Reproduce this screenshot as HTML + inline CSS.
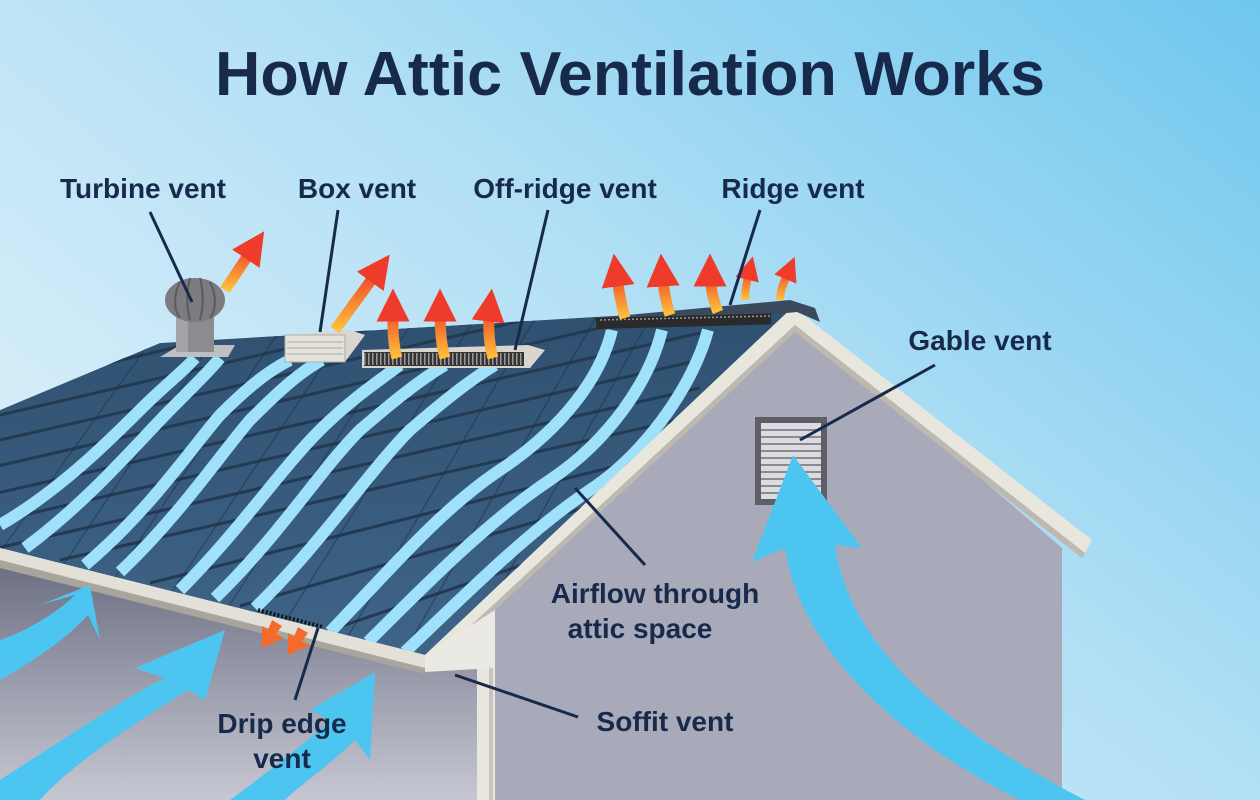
<!DOCTYPE html>
<html><head><meta charset="utf-8"><style>
html,body{margin:0;padding:0;width:1260px;height:800px;overflow:hidden}
svg{display:block}
text{font-family:"Liberation Sans",sans-serif;font-weight:bold;fill:#182a4c}
</style></head><body>
<svg width="1260" height="800" viewBox="0 0 1260 800" xmlns="http://www.w3.org/2000/svg">
<defs>
<linearGradient id="bg" x1="0" y1="0.8" x2="1" y2="0">
<stop offset="0" stop-color="#e2f2fa"/><stop offset="0.5" stop-color="#b4e0f5"/><stop offset="1" stop-color="#6fc7ee"/>
</linearGradient>
<linearGradient id="wall" x1="0" y1="0" x2="0" y2="1">
<stop offset="0" stop-color="#6a6d80"/><stop offset="0.5" stop-color="#9a9cac"/><stop offset="1" stop-color="#c6c7d2"/>
</linearGradient>
<linearGradient id="roof" x1="0" y1="0" x2="0" y2="1">
<stop offset="0" stop-color="#2f5070"/><stop offset="1" stop-color="#3f6487"/>
</linearGradient>
<linearGradient id="orng" x1="0" y1="1" x2="0" y2="0">
<stop offset="0" stop-color="#ffc23a"/><stop offset="1" stop-color="#ee3b2a"/>
</linearGradient>
<clipPath id="rc"><polygon points="0,410 160,343 795,305 425,655 0,548"/></clipPath>
<marker id="oh" viewBox="0 0 10 10" refX="5" refY="5" markerWidth="3" markerHeight="3" orient="auto"><path d="M0,0 L10,5 L0,10 z" fill="#ee3b2a"/></marker>
</defs>
<rect width="1260" height="800" fill="url(#bg)"/>
<text x="630" y="95" font-size="62" text-anchor="middle" textLength="830" lengthAdjust="spacingAndGlyphs">How Attic Ventilation Works</text>

<polygon points="0,560 425,668 500,668 500,800 0,800" fill="url(#wall)"/>
<polygon points="795,318 1062,548 1062,800 495,800 495,610" fill="#a9aab9"/>
<rect x="477" y="668" width="18" height="132" fill="#e9e6df"/>
<rect x="489" y="668" width="4" height="132" fill="#c8c4bb"/>
<polygon points="792,306 1092,540 1085,553 795,325 425,668 418,655" fill="#e9e6de"/>
<polygon points="795,325 1085,553 1082,558 795,332 428,672 425,668" fill="#bdb9b0"/>
<polygon points="425,655 495,610 495,668 425,672" fill="#ebe9e3"/>

<g clip-path="url(#rc)">
<polygon points="0,410 160,343 795,305 425,655 0,548" fill="url(#roof)"/>
<g stroke="#223a52" stroke-width="3" fill="none">
<path d="M0,440 L700,280"/><path d="M-20,470 L700,305"/><path d="M-20,497 L700,333"/>
<path d="M-20,525 L700,360"/><path d="M-20,552 L700,388"/><path d="M60,560 L700,415"/>
<path d="M150,583 L700,445"/><path d="M240,606 L700,475"/><path d="M330,630 L700,505"/>
<path d="M0,415 L700,253"/><path d="M100,365 L700,225"/>
</g>
<g stroke="#1f3349" stroke-width="1.2" opacity="0.6">
<path d="M40,600 L240,300"/><path d="M100,600 L300,300"/><path d="M160,610 L360,310"/><path d="M220,620 L420,310"/><path d="M280,630 L480,310"/><path d="M340,650 L540,310"/><path d="M400,660 L600,310"/><path d="M460,660 L660,300"/><path d="M-20,580 L180,300"/>
</g>
<g stroke="#9fe0fa" stroke-width="12" fill="none" stroke-linecap="butt">
<path d="M0,525 C60,490 110,440 140,410 C165,385 185,370 195,358"/>
<path d="M25,548 C90,500 140,440 170,410 C195,385 210,370 220,358"/>
<path d="M85,565 C150,510 190,450 220,415 C250,385 270,370 290,360"/>
<path d="M120,572 C180,515 220,455 250,420 C280,390 300,372 322,360"/>
<path d="M180,590 C240,530 280,470 320,430 C350,400 380,380 400,365"/>
<path d="M215,598 C280,535 320,470 360,430 C395,400 420,380 445,365"/>
<path d="M255,608 C320,545 370,470 410,430 C445,400 470,380 495,365"/>
<path d="M330,632 C390,570 440,510 500,470 C560,430 600,380 612,330"/>
<path d="M368,642 C430,580 490,520 550,480 C610,440 650,380 662,330"/>
<path d="M405,652 C470,590 530,530 590,490 C650,450 695,380 708,330"/>
</g>
</g>
<polygon points="0,548 425,655 425,672 0,566" fill="#e3e0d8"/>
<polygon points="0,560 425,668 425,674 0,568" fill="#a8a59c"/>
<line x1="258" y1="610" x2="323" y2="627" stroke="#111" stroke-width="4" stroke-dasharray="2 2"/>
<g fill="#f36a2a"><polygon points="272,620 282,626 276,634 284,638 262,648 262,626 268,630"/>
<polygon points="298,627 308,633 302,641 310,645 288,655 288,633 294,637"/></g>

<polygon points="595,318 790,300 815,308 820,322 797,312 600,330" fill="#3a4a5c"/>
<rect x="596" y="318" width="175" height="11" fill="#2a2a2a" transform="rotate(-1.5 596 318)"/>
<g stroke="#999" stroke-width="1.5"><path d="M600,320 L770,316" stroke-dasharray="2 2"/></g>
<polygon points="362,350 528,345 545,350 530,368 362,368" fill="#d9d6cf"/>
<rect x="364" y="352" width="160" height="14" fill="#333"/>
<line x1="364" y1="359" x2="524" y2="359" stroke="#999" stroke-width="12" stroke-dasharray="1.5 2.5"/>
<polygon points="295,335 350,330 365,335 345,362 285,362" fill="#d9d6cf"/>
<rect x="285" y="335" width="60" height="27" fill="#e5e2dc" stroke="#b0ada6" stroke-width="1"/>
<g stroke="#aaa" stroke-width="1"><path d="M287,342H343M287,348H343M287,354H343"/></g>
<polygon points="160,357 180,345 235,345 228,357" fill="#bfbfc3"/>
<rect x="176" y="312" width="38" height="40" fill="#8b8b90"/>
<rect x="176" y="312" width="12" height="40" fill="#a3a3a8"/>
<ellipse cx="195" cy="300" rx="30" ry="22" fill="#7b7b80"/>
<g stroke="#5a5a60" stroke-width="2" fill="none"><path d="M180,282 C172,298 175,312 180,318"/><path d="M190,278 C185,298 188,312 190,320"/><path d="M200,278 C205,298 202,312 200,320"/><path d="M210,282 C218,298 215,312 210,318"/></g>

<g fill="none" stroke="url(#orng)" stroke-width="11" marker-end="url(#oh)">
<path d="M225,290 L255,245"/>
<path d="M335,330 L380,268"/>
<path d="M397,358 C392,340 393,322 393,305"/>
<path d="M445,358 C440,340 440,322 440,305"/>
<path d="M493,358 C488,340 488,322 490,305"/>
<path d="M625,318 C620,300 618,285 616,270"/>
<path d="M670,315 C665,300 663,285 662,270"/>
<path d="M718,312 C713,300 710,285 710,270"/>
<path d="M745,300 C745,290 747,280 750,268" stroke-width="8"/>
<path d="M780,300 C780,290 785,280 790,268" stroke-width="8"/>
</g>

<rect x="755" y="417" width="72" height="88" fill="#5e5e66"/>
<rect x="761" y="423" width="60" height="76" fill="#dcdce0"/>
<g stroke="#8a8a92" stroke-width="2"><path d="M761,430H821M761,437H821M761,444H821M761,451H821M761,458H821M761,465H821M761,472H821M761,479H821M761,486H821M761,493H821"/></g>

<g fill="#4cc6f1">
<path d="M1085,800 C950,730 850,650 835,545 L862,548 L793,455 L752,562 L785,548 C800,650 900,740 1020,800 Z"/>
<path d="M0,640 C30,630 60,610 75,595 L40,605 L90,585 L100,640 L88,615 C65,640 35,660 0,680 Z"/>
<path d="M0,780 C70,735 130,695 165,678 L135,668 L225,630 L205,700 L188,690 C140,720 70,765 40,800 L0,800 Z"/>
<path d="M230,800 C270,770 310,740 330,720 L310,710 L375,672 L370,760 L355,740 C330,765 300,785 285,800 Z"/>
</g>

<g stroke="#182a4c" stroke-width="3" fill="none">
<path d="M150,212 L192,302"/>
<path d="M338,210 L320,332"/>
<path d="M548,210 L515,350"/>
<path d="M760,210 L730,305"/>
<path d="M935,365 L800,440"/>
<path d="M645,565 L575,488"/>
<path d="M578,717 L455,675"/>
<path d="M295,700 L318,628"/>
</g>

<g font-size="28" text-anchor="middle">
<text x="143" y="198">Turbine vent</text>
<text x="357" y="198">Box vent</text>
<text x="565" y="198">Off-ridge vent</text>
<text x="793" y="198">Ridge vent</text>
<text x="980" y="350">Gable vent</text>
<text x="655" y="603">Airflow through</text>
<text x="640" y="638">attic space</text>
<text x="665" y="731">Soffit vent</text>
<text x="282" y="733">Drip edge</text>
<text x="282" y="768">vent</text>
</g>
</svg>
</body></html>
